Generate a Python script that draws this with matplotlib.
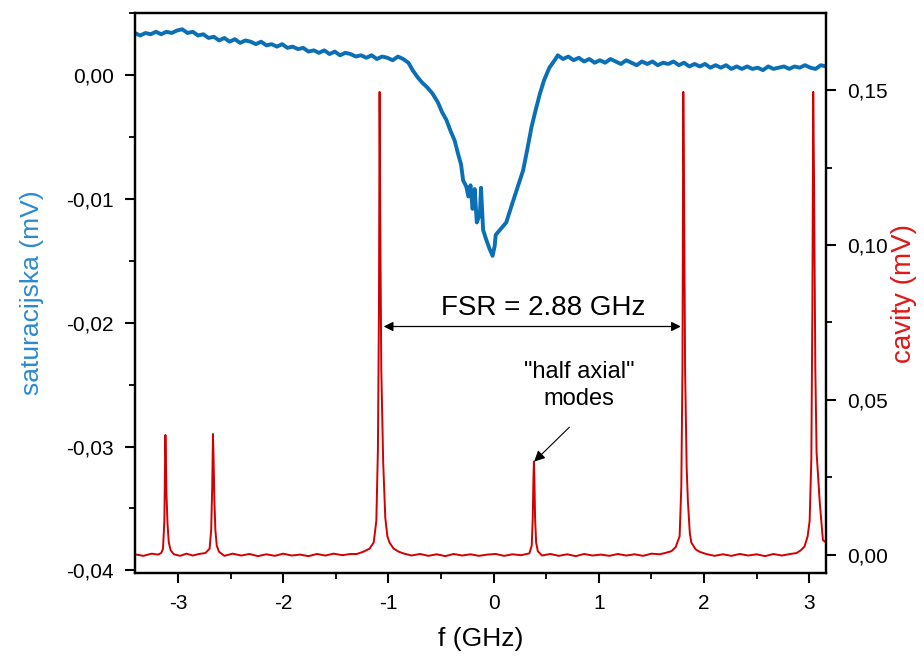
import matplotlib
matplotlib.use("Agg")
import matplotlib.pyplot as plt
from matplotlib.ticker import MultipleLocator, FuncFormatter

plt.rcParams['font.family'] = ['Liberation Sans', 'DejaVu Sans']

# ---- data ----
sat_x = [-3.41, -3.36, -3.31, -3.26, -3.21, -3.16, -3.11, -3.06, -3.01, -2.96, -2.91, -2.86,
         -2.81, -2.76, -2.71, -2.66, -2.61, -2.56, -2.51, -2.46, -2.41, -2.36, -2.31, -2.26,
         -2.21, -2.16, -2.11, -2.06, -2.01, -1.96, -1.91, -1.86, -1.81, -1.76, -1.71, -1.66,
         -1.61, -1.56, -1.51, -1.46, -1.41, -1.36, -1.31, -1.26, -1.21, -1.16, -1.11, -1.06,
         -1.01, -0.96, -0.91, -0.86, -0.81, -0.77, -0.72, -0.68, -0.63, -0.58, -0.53, -0.49,
         -0.45, -0.41, -0.37, -0.34, -0.31, -0.29, -0.26, -0.24, -0.22, -0.20, -0.18, -0.16,
         -0.13, -0.12, -0.10, -0.07, -0.04, -0.01, 0.01, 0.02, 0.06, 0.12, 0.18, 0.23,
         0.28, 0.32, 0.36, 0.40, 0.44, 0.48, 0.53, 0.58, 0.61, 0.66, 0.71, 0.76,
         0.81, 0.86, 0.91, 0.96, 1.01, 1.06, 1.11, 1.16, 1.21, 1.26, 1.31, 1.36,
         1.41, 1.46, 1.51, 1.56, 1.61, 1.66, 1.71, 1.76, 1.81, 1.86, 1.91, 1.96,
         2.01, 2.06, 2.11, 2.16, 2.21, 2.26, 2.31, 2.36, 2.41, 2.46, 2.51, 2.56,
         2.61, 2.66, 2.71, 2.76, 2.81, 2.86, 2.91, 2.96, 3.01, 3.06, 3.11, 3.16]
sat_y = [0.0034, 0.0032, 0.0034, 0.0033, 0.0035, 0.0033, 0.0035, 0.0034, 0.0036, 0.0037, 0.0034, 0.0035,
         0.0032, 0.0033, 0.0030, 0.0031, 0.0028, 0.0030, 0.0027, 0.0029, 0.0026, 0.0028, 0.0027, 0.0025,
         0.0027, 0.0024, 0.0025, 0.0023, 0.0025, 0.0022, 0.0023, 0.0021, 0.0022, 0.0019, 0.0020, 0.0018,
         0.0020, 0.0017, 0.0019, 0.0016, 0.0018, 0.0017, 0.0015, 0.0016, 0.0014, 0.0016, 0.0013, 0.0015,
         0.0014, 0.0012, 0.0015, 0.0013, 0.0010, 0.0004, -0.0002, -0.0006, -0.0010, -0.0015, -0.0022, -0.0030,
         -0.0036, -0.0045, -0.0053, -0.0063, -0.0072, -0.0085, -0.0090, -0.0098, -0.0089, -0.0108, -0.0092, -0.0119,
         -0.0112, -0.0091, -0.0125, -0.0133, -0.0140, -0.0146, -0.0138, -0.0129, -0.0125, -0.0119, -0.0103, -0.0090,
         -0.0077, -0.0060, -0.0042, -0.0028, -0.0015, -0.0004, 0.0006, 0.0012, 0.0016, 0.0013, 0.0015, 0.0012,
         0.0014, 0.0011, 0.0013, 0.0010, 0.0012, 0.0010, 0.0013, 0.0011, 0.0009, 0.0012, 0.0010, 0.0008,
         0.0011, 0.0009, 0.0011, 0.0008, 0.0010, 0.0009, 0.0011, 0.0008, 0.0010, 0.0007, 0.0009, 0.0007,
         0.0009, 0.0006, 0.0008, 0.0006, 0.0008, 0.0005, 0.0007, 0.0005, 0.0007, 0.0005, 0.0006, 0.0004,
         0.0007, 0.0005, 0.0006, 0.0007, 0.0005, 0.0007, 0.0006, 0.0008, 0.0006, 0.0005, 0.0008, 0.0007]

cav_x = [-3.41, -3.33, -3.25, -3.19, -3.16, -3.143, -3.130, -3.123, -3.120, -3.116, -3.110, -3.100,
         -3.088, -3.07, -3.04, -2.98, -2.92, -2.86, -2.80, -2.74, -2.70, -2.685, -2.675, -2.668,
         -2.662, -2.655, -2.645, -2.632, -2.61, -2.56, -2.48, -2.40, -2.32, -2.24, -2.16, -2.08,
         -2.00, -1.92, -1.84, -1.76, -1.68, -1.60, -1.52, -1.44, -1.36, -1.30, -1.24, -1.18,
         -1.14, -1.115, -1.100, -1.090, -1.084, -1.078, -1.068, -1.050, -1.030, -1.010, -0.99, -0.95,
         -0.90, -0.85, -0.78, -0.70, -0.62, -0.54, -0.46, -0.38, -0.30, -0.22, -0.14, -0.06,
         0.02, 0.10, 0.18, 0.26, 0.34, 0.362, 0.372, 0.378, 0.383, 0.388, 0.394, 0.404,
         0.42, 0.46, 0.54, 0.62, 0.70, 0.78, 0.86, 0.94, 1.02, 1.10, 1.18, 1.26,
         1.34, 1.42, 1.50, 1.58, 1.65, 1.69, 1.73, 1.768, 1.784, 1.795, 1.803, 1.810,
         1.820, 1.835, 1.847, 1.865, 1.879, 1.92, 1.958, 2.02, 2.10, 2.18, 2.26, 2.34,
         2.42, 2.50, 2.58, 2.66, 2.74, 2.82, 2.88, 2.92, 2.955, 2.985, 3.004, 3.020,
         3.030, 3.038, 3.046, 3.058, 3.070, 3.100, 3.130, 3.160]
cav_y = [0.0002, -0.0003, 0.0004, 0.0001, 0.0006, 0.0020, 0.0110, 0.0300, 0.0387, 0.0320, 0.0200, 0.0100,
         0.0040, 0.0015, 0.0002, -0.0003, 0.0004, -0.0002, 0.0003, 0.0006, 0.0020, 0.0080, 0.0220, 0.0390,
         0.0310, 0.0180, 0.0080, 0.0030, 0.0010, -0.0003, 0.0004, -0.0002, 0.0003, -0.0004, 0.0002, -0.0003,
         0.0004, -0.0002, 0.0001, -0.0004, 0.0003, -0.0002, 0.0004, -0.0001, 0.0003, 0.0003, 0.0010, 0.0020,
         0.0040, 0.0110, 0.0340, 0.0800, 0.1494, 0.1100, 0.0600, 0.0300, 0.0120, 0.0060, 0.0040, 0.0020,
         0.0010, 0.0004, -0.0002, 0.0003, -0.0003, 0.0002, -0.0004, 0.0003, -0.0002, 0.0002, -0.0003, 0.0001,
         0.0003, -0.0003, 0.0002, -0.0001, 0.0005, 0.0030, 0.0120, 0.0240, 0.0301, 0.0240, 0.0120, 0.0040,
         0.0012, -0.0002, 0.0003, -0.0003, 0.0002, -0.0004, 0.0003, -0.0002, 0.0001, -0.0003, 0.0003, -0.0002,
         0.0002, -0.0003, 0.0004, 0.0002, 0.0008, 0.0012, 0.0025, 0.0060, 0.0220, 0.0600, 0.1494, 0.1200,
         0.0600, 0.0280, 0.0170, 0.0070, 0.0040, 0.0018, 0.0010, 0.0003, -0.0003, 0.0002, -0.0003, 0.0003,
         -0.0002, 0.0002, -0.0004, 0.0003, -0.0002, 0.0003, 0.0006, 0.0015, 0.0027, 0.0060, 0.0110, 0.0310,
         0.0800, 0.1494, 0.1200, 0.0600, 0.0330, 0.0170, 0.0048, 0.0040]

fsr_text = "FSR = 2.88 GHz"
fsr_span = (-1.045, 1.78)
fsr_level = 0.0737
fsr_text_pos = (0.47, 0.0775)
mode_text = "\"half axial\"\nmodes"
mode_text_pos = (0.81, 0.0625)
mode_tail = (0.72, 0.0412)
mode_peak = (0.385, 0.0301)

BLUE = '#0a6fb5'
BLUE_LABEL = '#2a8ad0'
RED = '#d20000'
RED_LABEL = '#e01818'

fig = plt.figure(figsize=(9.24, 6.6), dpi=100)
ax = fig.add_axes([0.146, 0.132, 0.748, 0.848])
ax2 = ax.twinx()

ax.plot(sat_x, sat_y, color=BLUE, lw=2.8)
ax2.plot(cav_x, cav_y, color=RED, lw=1.4)

ax.set_xlim(-3.41, 3.16)
ax.set_ylim(-0.0402, 0.0050)
ax2.set_ylim(-0.0058, 0.1748)

comma = lambda fmt: FuncFormatter(lambda v, p: (fmt % v).replace('.', ',').replace('-0,00', '0,00'))
ax.xaxis.set_major_locator(MultipleLocator(1))
ax.xaxis.set_minor_locator(MultipleLocator(0.5))
ax.xaxis.set_major_formatter(FuncFormatter(lambda v, p: '%d' % round(v)))
ax.yaxis.set_major_locator(MultipleLocator(0.01))
ax.yaxis.set_minor_locator(MultipleLocator(0.005))
ax.yaxis.set_major_formatter(comma('%.2f'))
ax2.yaxis.set_major_locator(MultipleLocator(0.05))
ax2.yaxis.set_minor_locator(MultipleLocator(0.025))
ax2.yaxis.set_major_formatter(comma('%.2f'))

for a in (ax, ax2):
    for s in a.spines.values():
        s.set_linewidth(1.6)
    a.tick_params(which='major', direction='out', length=7, width=1.5, labelsize=15, pad=8)
    a.tick_params(which='minor', direction='out', length=4, width=1.3)
ax.tick_params(axis='y', which='both', right=False)
ax.tick_params(axis='x', which='both', top=False)
ax.tick_params(axis='x', which='major', pad=8)

ax.set_xlabel('f (GHz)', fontsize=19, labelpad=10)
ax.set_ylabel('saturacijska (mV)', fontsize=19, color=BLUE_LABEL, labelpad=16)
ax2.set_ylabel('cavity (mV)', fontsize=20, color=RED_LABEL, labelpad=2)

ax2.annotate('', xy=(fsr_span[0], fsr_level), xytext=(fsr_span[1], fsr_level),
             arrowprops=dict(arrowstyle='<|-|>', color='black', lw=0.9,
                             mutation_scale=14, shrinkA=0, shrinkB=0))
ax2.text(fsr_text_pos[0], fsr_text_pos[1], fsr_text, ha='center', va='baseline', fontsize=20)

ax2.text(mode_text_pos[0], mode_text_pos[1], mode_text, ha='center', va='top',
         fontsize=17, linespacing=1.3)
ax2.annotate('', xy=mode_peak, xytext=mode_tail,
             arrowprops=dict(arrowstyle='-|>', color='black', lw=0.8,
                             mutation_scale=16, shrinkA=0, shrinkB=0))

fig.savefig('out.png', dpi=100)
